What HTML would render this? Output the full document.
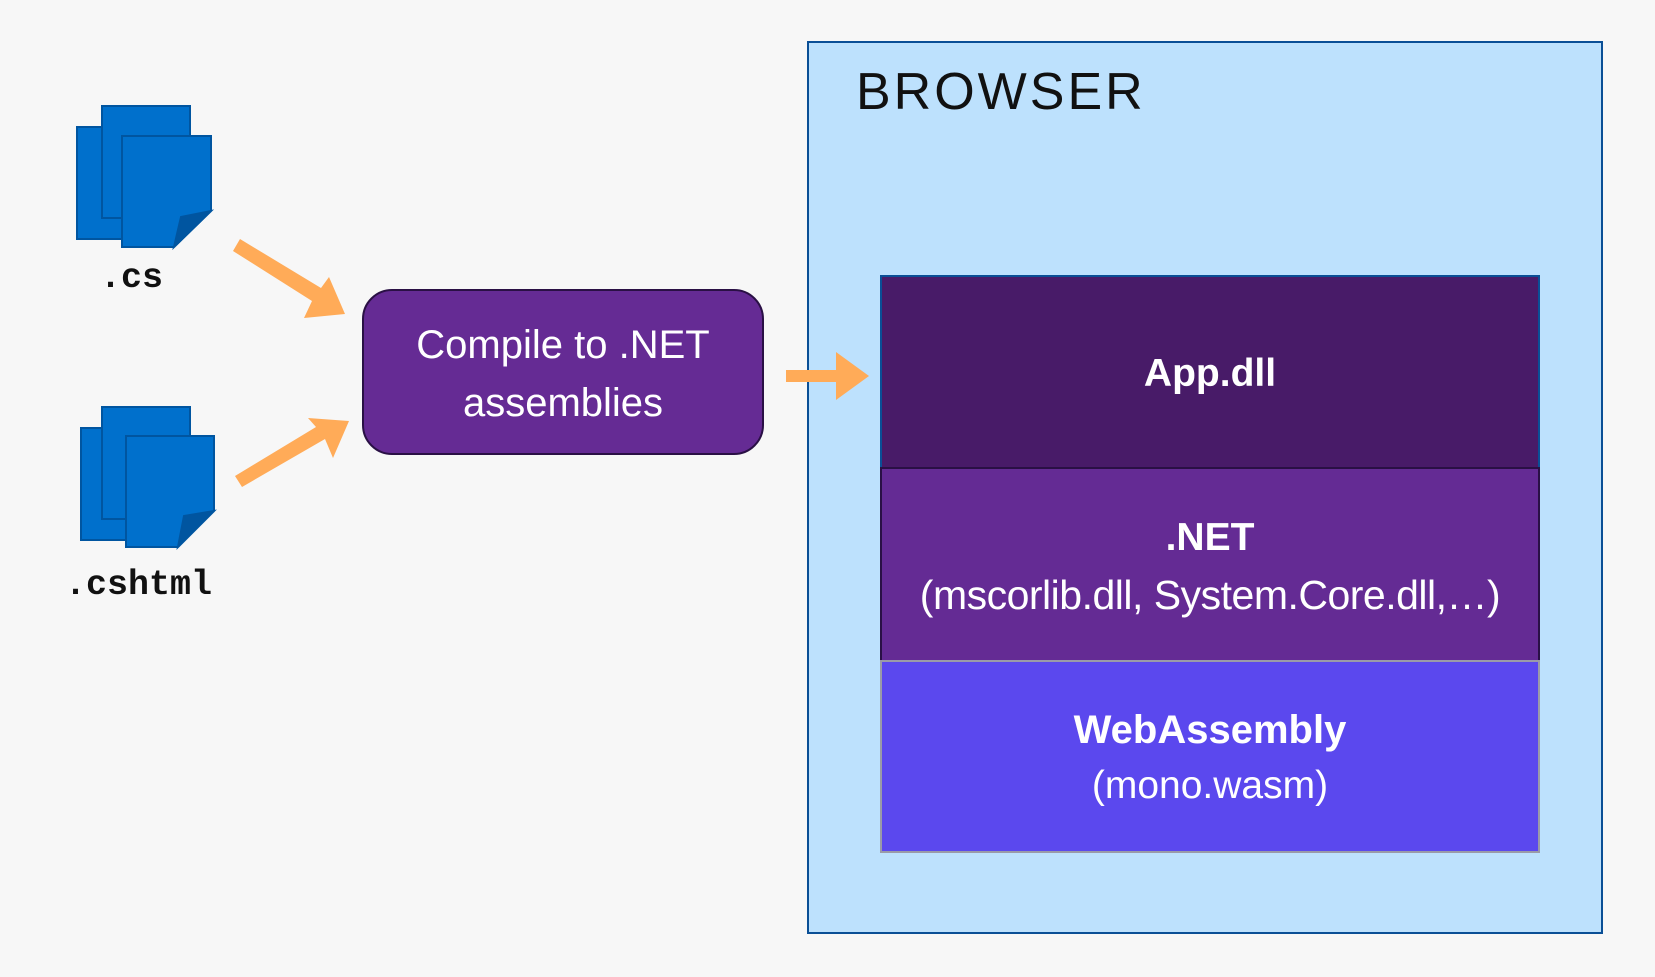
<!DOCTYPE html>
<html><head><meta charset="utf-8"><style>
html,body{margin:0;padding:0;background:#f7f7f7;}
body{width:1655px;height:977px;position:relative;overflow:hidden;font-family:"Liberation Sans",sans-serif;}
.abs{position:absolute;}
</style></head><body>
<div class="abs" style="left:807px;top:41px;width:796px;height:893px;background:#bde1fd;border:2px solid #0a4f96;box-sizing:border-box;"></div>
<div class="abs" style="left:856px;top:62px;font-size:52px;letter-spacing:3px;color:#111;">BROWSER</div>

<div class="abs" style="left:880px;top:275px;width:660px;height:194px;background:#481b68;border:2px solid #0a4f96;box-sizing:border-box;"></div>
<div class="abs" style="left:880px;top:467px;width:660px;height:195px;background:#642b94;border:2px solid #2a1045;box-sizing:border-box;"></div>
<div class="abs" style="left:880px;top:660px;width:660px;height:193px;background:#5b48ee;border:2px solid #9a9aa8;box-sizing:border-box;"></div>
<div class="abs" style="left:880px;width:660px;top:352px;text-align:center;color:#fff;font-weight:bold;font-size:39px;">App.dll</div>
<div class="abs" style="left:880px;width:660px;top:516px;text-align:center;color:#fff;font-weight:bold;font-size:39px;">.NET</div>
<div class="abs" style="left:880px;width:660px;top:572px;text-align:center;color:#fff;font-size:41px;letter-spacing:-0.5px;">(mscorlib.dll, System.Core.dll,…)</div>
<div class="abs" style="left:880px;width:660px;top:708px;text-align:center;color:#fff;font-weight:bold;font-size:40px;">WebAssembly</div>
<div class="abs" style="left:880px;width:660px;top:764px;text-align:center;color:#fff;font-size:39px;">(mono.wasm)</div>

<div class="abs" style="left:362px;top:289px;width:402px;height:166px;background:#652b94;border:2px solid #2a1045;border-radius:30px;box-sizing:border-box;"></div>
<div class="abs" style="left:362px;width:402px;top:316px;text-align:center;color:#fff;font-size:40px;line-height:58px;">Compile to .NET<br>assemblies</div>

<svg class="abs" style="left:0;top:0" width="1655" height="977">
<g fill="#0070cc" stroke="#0055a0" stroke-width="2">
 <rect x="77" y="127" width="88" height="112"/>
 <rect x="102" y="106" width="88" height="112"/>
 <path d="M122 136 H211 V211 L174 247 H122 Z"/>
 <path d="M174 247 L181 217 L211 211 Z" fill="#0055a0"/>
 <rect x="81" y="428" width="88" height="112"/>
 <rect x="102" y="407" width="88" height="112"/>
 <path d="M126 436 H214 V511 L178 547 H126 Z"/>
 <path d="M178 547 L184 516 L214 511 Z" fill="#0055a0"/>
</g>
<g fill="#ffab58">
 <path d="M233 251 L240 239 L321 288 L329 277 L345 314 L304 318 L312 301 Z"/>
 <path d="M242 487 L235 476 L316 427 L308 418 L349 421 L333 458 L325 439 Z"/>
 <path d="M786 370 H836 V352 L869 376 L836 400 V382 H786 Z"/>
</g>
</svg>
<div class="abs" style="left:100px;top:258px;font-family:'Liberation Mono',monospace;font-weight:bold;font-size:35px;color:#111;">.cs</div>
<div class="abs" style="left:65px;top:565px;font-family:'Liberation Mono',monospace;font-weight:bold;font-size:35px;color:#111;">.cshtml</div>
</body></html>
